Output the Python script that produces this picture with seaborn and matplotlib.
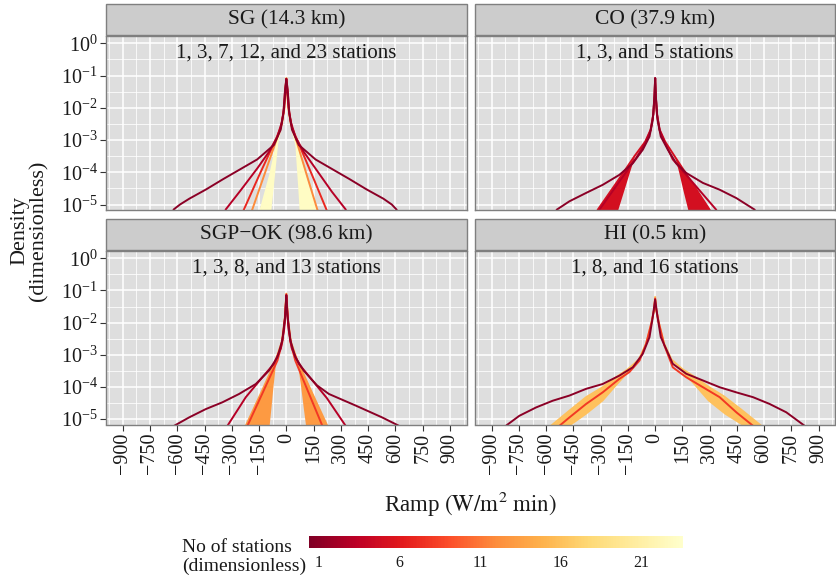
import numpy as np
import pandas as pd
import matplotlib
matplotlib.use("Agg")
import matplotlib.pyplot as plt
import seaborn as sns
from matplotlib.patches import Rectangle
from matplotlib import colors as mcolors, cm
from matplotlib.ticker import FixedLocator, LogFormatterMathtext, NullFormatter

# ---------------------------------------------------------------- data
PANEL_TITLES = ["SG (14.3 km)", "CO (37.9 km)", "SGP\u2212OK (98.6 km)", "HI (0.5 km)"]
PANEL_NOTES = ["1, 3, 7, 12, and 23 stations", "1, 3, and 5 stations",
               "1, 3, 8, and 13 stations", "1, 8, and 16 stations"]

# ramp distribution curves: ramp (W/m^2 min) and log10 of density, per station count
SG_1_RAMP = [-650, -619, -585, -534, -441, -347, -258, -160, -68, -31, -16, -7, 0,
             7, 16, 31, 68, 160, 258, 347, 441, 534, 580, 605, 640]
SG_1_LOGD = [-5.5, -5.15, -5.0, -4.82, -4.53, -4.21, -3.92, -3.60, -3.15, -2.68, -2.17, -1.44, -1.11,
             -1.44, -2.17, -2.68, -3.15, -3.60, -3.92, -4.21, -4.53, -4.82, -5.0, -5.15, -5.5]
SG_3_RAMP = [-350, -333, -250, -160, -95, -50, -25, -12, -5, 0, 5, 12, 25, 50, 95, 160, 250, 326, 345]
SG_3_LOGD = [-5.45, -5.15, -4.55, -3.88, -3.36, -2.9, -2.45, -2.0, -1.5, -1.1,
             -1.5, -2.0, -2.45, -2.9, -3.36, -3.88, -4.6, -5.15, -5.45]
SG_7_RAMP = [-245, -233, -150, -59, -31, -16, -7, 0, 7, 16, 31, 59, 150, 220, 232]
SG_7_LOGD = [-5.3, -5.15, -4.1, -2.99, -2.62, -2.15, -1.45, -1.1, -1.45, -2.15, -2.62, -2.99, -4.2, -5.15, -5.3]
SG_12_RAMP = [-200, -187, -120, -50, -25, -12, -5, 0, 5, 12, 25, 50, 110, 170, 182]
SG_12_LOGD = [-5.32, -5.15, -4.06, -2.92, -2.5, -2.05, -1.5, -1.08, -1.5, -2.05, -2.5, -2.92, -4.04, -5.15, -5.32]
SG_23_RAMP = [-150, -141, -90, -45, -22, -10, -4, 0, 4, 10, 22, 45, 100, 161, 170]
SG_23_LOGD = [-5.3, -5.15, -4.1, -2.95, -2.45, -2.0, -1.5, -1.08, -1.5, -2.0, -2.45, -2.95, -4.1, -5.15, -5.3]

CO_1_RAMP = [-560, -542, -472, -380, -289, -197, -123, -68, -31, -13, -4, 0,
             4, 13, 31, 70, 116, 171, 263, 355, 447, 548, 565]
CO_1_LOGD = [-5.5, -5.16, -4.90, -4.64, -4.39, -4.08, -3.72, -3.30, -2.89, -2.37, -1.65, -1.08,
             -1.65, -2.37, -2.89, -3.30, -3.72, -4.02, -4.33, -4.54, -4.80, -5.16, -5.5]
CO_3_RAMP = [-320, -307, -200, -105, -55, -25, -10, -3, 0, 3, 10, 25, 55, 97, 200, 336, 350]
CO_3_LOGD = [-5.4, -5.16, -4.31, -3.56, -3.1, -2.7, -2.2, -1.6, -1.08,
             -1.6, -2.2, -2.7, -3.1, -3.6, -4.27, -5.16, -5.4]
CO_5_RAMP = [-330, -316, -210, -114, -55, -25, -10, -3, 0, 3, 10, 25, 55, 107, 200, 300, 315]
CO_5_LOGD = [-5.4, -5.16, -4.3, -3.5, -3.05, -2.68, -2.2, -1.6, -1.08,
             -1.6, -2.2, -2.68, -3.05, -3.5, -4.3, -5.16, -5.4]

OK_1_RAMP = [-635, -617, -535, -443, -352, -260, -168, -95, -49, -22, -7, 0,
             7, 22, 49, 95, 168, 234, 381, 527, 619, 640]
OK_1_LOGD = [-5.5, -5.21, -4.95, -4.69, -4.48, -4.22, -3.91, -3.49, -3.07, -2.55, -1.82, -1.15,
             -1.82, -2.55, -3.07, -3.49, -3.95, -4.22, -4.58, -4.95, -5.21, -5.5]
OK_3_RAMP = [-340, -324, -223, -132, -68, -30, -12, -4, 0, 4, 12, 30, 68, 132, 223, 326, 342]
OK_3_LOGD = [-5.45, -5.21, -4.32, -3.70, -3.28, -2.8, -2.2, -1.6, -1.15,
             -1.6, -2.2, -2.8, -3.28, -3.72, -4.35, -5.21, -5.45]
OK_8_RAMP = [-225, -214, -130, -49, -22, -8, 0, 8, 22, 49, 120, 198, 210]
OK_8_LOGD = [-5.37, -5.21, -4.18, -3.18, -2.6, -1.9, -1.12, -1.9, -2.6, -3.18, -4.15, -5.21, -5.37]
OK_13_RAMP = [-235, -223, -140, -59, -25, -9, 0, 9, 25, 60, 140, 225, 237]
OK_13_LOGD = [-5.37, -5.21, -4.2, -3.18, -2.6, -1.9, -1.1, -1.9, -2.6, -3.18, -4.17, -5.21, -5.37]

HI_1_RAMP = [-840, -822, -748, -656, -564, -472, -380, -289, -197, -123, -68, -31, -13, 0,
             13, 31, 97, 171, 263, 355, 447, 539, 630, 722, 823, 840]
HI_1_LOGD = [-5.5, -5.21, -4.90, -4.64, -4.43, -4.27, -4.06, -3.91, -3.65, -3.39, -2.97, -2.45, -1.82, -1.28,
             -1.82, -2.45, -3.28, -3.59, -3.80, -4.01, -4.17, -4.32, -4.53, -4.79, -5.21, -5.5]
HI_8_RAMP = [-545, -527, -472, -380, -289, -197, -142, -86, -50, -20, -6, 0,
             6, 20, 50, 97, 171, 263, 355, 447, 539, 555]
HI_8_LOGD = [-5.5, -5.21, -4.95, -4.53, -4.17, -3.75, -3.54, -3.18, -2.66, -2.0, -1.6, -1.25,
             -1.6, -2.0, -2.7, -3.39, -3.70, -4.01, -4.32, -4.79, -5.21, -5.5]
HI_16_RAMP = [-590, -573, -472, -380, -289, -215, -150, -90, -50, -20, -6, 0,
              6, 20, 50, 90, 150, 215, 289, 380, 472, 584, 600]
HI_16_LOGD = [-5.5, -5.21, -4.74, -4.32, -4.01, -3.70, -3.45, -3.15, -2.66, -2.0, -1.6, -1.2,
              -1.6, -2.0, -2.66, -3.15, -3.45, -3.68, -3.98, -4.30, -4.70, -5.21, -5.5]

# scatter bands of the sparse (noisy) histograms: log10 density levels and
# ramp bounds [left outer, left inner, right inner, right outer]
SG_23_BAND = {"levels": [-5.3, -5.15, -4.5, -4.0, -3.5, -2.95],
              "lo": [-148, -141, -113, -91, -69, -45], "li": [-88, -85, -73, -64, -55, -45],
              "ri": [71, 70, 63, 57, 51, 45], "ro": [168, 161, 127, 100, 74, 45]}
CO_5_BAND = {"levels": [-5.4, -5.16, -4.6, -4.0, -3.5],
             "lo": [-345, -316, -248, -175, -114], "li": [-219, -206, -175, -142, -114],
             "ri": [190, 180, 155, 130, 107], "ro": [328, 300, 235, 165, 107]}
OK_13_BAND = {"levels": [-5.4, -5.21, -4.6, -4.0, -3.5, -3.18],
              "lo": [-238, -223, -174, -125, -85, -59], "li": [-98, -95, -84, -74, -64, -59],
              "ri": [110, 106, 92, 79, 67, 60], "ro": [240, 225, 175, 127, 86, 60]}
HI_16_BAND = {"levels": [-5.4, -5.21, -4.84, -4.43, -3.95, -3.55, -3.3],
              "lo": [-590, -573, -495, -410, -280, -170, -115], "li": [-480, -472, -380, -289, -215, -150, -115],
              "ri": [490, 483, 380, 289, 215, 150, 115], "ro": [600, 584, 500, 405, 280, 170, 115]}

PANEL_SERIES = [
    [(1, SG_1_RAMP, SG_1_LOGD, None), (3, SG_3_RAMP, SG_3_LOGD, None), (7, SG_7_RAMP, SG_7_LOGD, None),
     (12, SG_12_RAMP, SG_12_LOGD, None), (23, SG_23_RAMP, SG_23_LOGD, SG_23_BAND)],
    [(1, CO_1_RAMP, CO_1_LOGD, None), (3, CO_3_RAMP, CO_3_LOGD, None), (5, CO_5_RAMP, CO_5_LOGD, CO_5_BAND)],
    [(1, OK_1_RAMP, OK_1_LOGD, None), (3, OK_3_RAMP, OK_3_LOGD, None), (8, OK_8_RAMP, OK_8_LOGD, None),
     (13, OK_13_RAMP, OK_13_LOGD, OK_13_BAND)],
    [(1, HI_1_RAMP, HI_1_LOGD, None), (8, HI_8_RAMP, HI_8_LOGD, None), (16, HI_16_RAMP, HI_16_LOGD, HI_16_BAND)],
]

X_TICKS = list(range(-900, 901, 150))
CBAR_TICKS = [1, 6, 11, 16, 21]

# ---------------------------------------------------------------- style
sns.set_theme(style="darkgrid")
plt.rcParams["font.family"] = ["Liberation Serif", "DejaVu Serif"]
plt.rcParams["mathtext.fontset"] = "stix"
plt.rcParams["axes.unicode_minus"] = True

PANEL_BG = "#DEDEDE"
STRIP_BG = "#CCCCCC"
BORDER = "#7F7F7F"
TEXT = "#1A1A1A"
CMAP = "YlOrRd_r"
NORM = mcolors.Normalize(vmin=0.4, vmax=23.6)
cmap_obj = plt.get_cmap(CMAP)

W, H = 836, 585
fig = plt.figure(figsize=(W / 100, H / 100), dpi=100)
fig.patch.set_facecolor("white")

cols = [(106, 466.7), (475, 835.3)]
rows = [(36, 210), (251, 424.5)]
YLIM = (10 ** -5.17, 10 ** 0.228)
XLIM = (-992, 992)

for idx in range(4):
    r, c = divmod(idx, 2)
    x0, x1 = cols[c]
    y0, y1 = rows[r]
    ax = fig.add_axes([x0 / W, 1 - y1 / H, (x1 - x0) / W, (y1 - y0) / H])
    ax.set_facecolor(PANEL_BG)

    for stations, ramp, logd, band in sorted(PANEL_SERIES[idx], key=lambda s: -s[0]):
        color = cmap_obj(NORM(stations))
        if band is not None:
            lev = 10 ** np.asarray(band["levels"])
            ax.fill_betweenx(lev, band["lo"], band["li"], color=color, lw=0, zorder=2)
            ax.fill_betweenx(lev, band["ri"], band["ro"], color=color, lw=0, zorder=2)
        df = pd.DataFrame({"ramp": ramp, "density": 10 ** np.asarray(logd), "stations": stations})
        sns.lineplot(data=df, x="ramp", y="density", hue="stations", palette=CMAP, hue_norm=NORM,
                     estimator=None, sort=False, legend=False, lw=1.4, ax=ax, zorder=3)

    ax.set_yscale("log")
    ax.set_xlim(XLIM)
    ax.set_ylim(YLIM)
    ax.set_xlabel("")
    ax.set_ylabel("")

    ax.xaxis.set_major_locator(FixedLocator(X_TICKS))
    ax.xaxis.set_minor_locator(FixedLocator([t + 75 for t in range(-1050, 901, 150)]))
    ax.yaxis.set_major_locator(FixedLocator([10.0 ** k for k in range(-5, 1)]))
    ax.yaxis.set_minor_locator(FixedLocator([10.0 ** (k + 0.5) for k in range(-6, 0)]))
    ax.yaxis.set_major_formatter(LogFormatterMathtext())
    ax.yaxis.set_minor_formatter(NullFormatter())
    ax.xaxis.set_minor_formatter(NullFormatter())
    ax.grid(which="major", color="white", lw=1.1)
    ax.grid(which="minor", color="white", lw=0.55)
    ax.set_axisbelow(True)

    for s in ax.spines.values():
        s.set_visible(True)
        s.set_color(BORDER)
        s.set_linewidth(1.0)
        s.set_zorder(5)

    ax.tick_params(axis="both", which="minor", length=0)
    ax.tick_params(axis="both", which="major", length=4, width=0.8, color="#333333",
                   labelsize=14.5, labelcolor=TEXT, pad=2)
    if c == 0:
        ax.tick_params(axis="y", left=True, labelleft=True)
    else:
        ax.tick_params(axis="y", left=False, labelleft=False)
    if r == 1:
        ax.tick_params(axis="x", bottom=True, labelbottom=True, labelrotation=90)
        for lab in ax.get_xticklabels():
            lab.set_va("top")
            lab.set_ha("center")
    else:
        ax.tick_params(axis="x", bottom=False, labelbottom=False)

    # facet strip
    ph = y1 - y0
    strip = Rectangle((0, 1 + 0.8 / ph), 1, 31.5 / ph, transform=ax.transAxes, clip_on=False,
                      facecolor=STRIP_BG, edgecolor=BORDER, lw=1.0, zorder=6)
    ax.add_patch(strip)
    ax.text(0.5, 1 + (0.8 + 31.5 / 2) / ph, PANEL_TITLES[idx], transform=ax.transAxes,
            ha="center", va="center", fontsize=15.5, color=TEXT, zorder=7)

    ax.text(0.5, 1 - 17.5 / ph, PANEL_NOTES[idx], transform=ax.transAxes,
            ha="center", va="center", fontsize=15, color=TEXT, zorder=7)

# axis titles
fig.text(470.5 / W, 1 - 503 / H, r"Ramp $\left(\mathrm{W/m^{2}\ min}\right)$",
         ha="center", va="center", fontsize=16.5, color=TEXT)
fig.text(29 / W, 1 - 231 / H, "Density\n(dimensionless)", rotation=90,
         ha="center", va="center", fontsize=16, color=TEXT, linespacing=1.0)

# colour bar
cax = fig.add_axes([309.3 / W, 1 - 547.7 / H, 373.7 / W, 12 / H])
sm = cm.ScalarMappable(norm=NORM, cmap=CMAP)
cbar = fig.colorbar(sm, cax=cax, orientation="horizontal", ticks=CBAR_TICKS)
cbar.outline.set_visible(False)
cax.tick_params(axis="x", which="major", direction="in", length=2.5, width=0.8, color="white",
                top=True, bottom=True, labelsize=11.5, labelcolor=TEXT, pad=5)
cax.tick_params(axis="x", which="minor", length=0)
fig.text(182 / W, 1 - 557 / H, "No of stations\n(dimensionless)", ha="left", va="center",
         fontsize=14, color=TEXT, linespacing=1.1)

fig.savefig("out.png", dpi=100, facecolor="white")
